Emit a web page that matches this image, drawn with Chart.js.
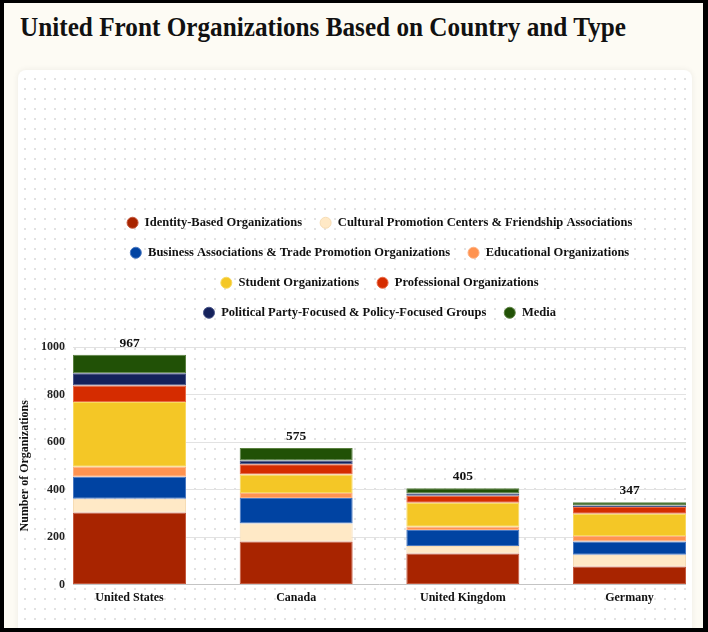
<!DOCTYPE html>
<html>
<head>
<meta charset="utf-8">
<title>United Front Organizations Based on Country and Type</title>
<script src="https://cdn.jsdelivr.net/npm/chart.js@4.4.0/dist/chart.umd.min.js"></script>
<style>
  html, body { margin: 0; padding: 0; background: #000; }
  body { width: 708px; height: 632px; overflow: hidden; position: relative; }
  #page {
    position: absolute; left: 4px; top: 3px; width: 699px; height: 625px;
    background: #fdfbf4; overflow: hidden;
  }
  h1 {
    position: absolute; left: 16px; top: 9px; margin: 0;
    font-family: "Liberation Serif", serif; font-weight: bold; font-size: 27px;
    color: #111; white-space: nowrap;
    transform: scaleX(0.934); transform-origin: left top;
  }
  #card {
    position: absolute; left: 14px; top: 67px; width: 674px; height: 600px;
    border-radius: 8px; background-color: #fff;
    box-shadow: 0 0 6px rgba(0, 0, 0, 0.07);
    background-image: radial-gradient(circle, #e2e2e2 0.9px, transparent 1.3px);
    background-size: 10px 10px; background-position: 2px 4px;
  }
  #wrap { position: absolute; left: 0; top: 0; width: 674px; height: 555px; }
</style>
</head>
<body>
<div id="page">
  <h1>United Front Organizations Based on Country and Type</h1>
  <div id="card">
    <div id="wrap"><canvas id="orgChart"></canvas></div>
  </div>
</div>
<script>
// countries on the x axis
const countries = ['United States', 'Canada', 'United Kingdom', 'Germany'];

// organizations per type, one value per country
const identityBased = [303, 181, 131, 76];
const culturalPromotion = [58, 76, 31, 50];
const businessTrade = [93, 108, 68, 55];
const educational = [42, 21, 13, 24];
const student = [272, 77, 101, 93];
const professional = [70, 43, 30, 29];
const politicalParty = [51, 16, 9, 6];
const media = [78, 53, 22, 14];

const yTicks = [0, 200, 400, 600, 800, 1000];

const seriesNames = [
    'Identity-Based Organizations',
    'Cultural Promotion Centers & Friendship Associations',
    'Business Associations & Trade Promotion Organizations',
    'Educational Organizations',
    'Student Organizations',
    'Professional Organizations',
    'Political Party-Focused & Policy-Focused Groups',
    'Media'
];
const seriesValues = [identityBased, culturalPromotion, businessTrade, educational,
    student, professional, politicalParty, media];

const fillColors = ['#a82400', '#ffe9c6', '#0043a2', '#ff9350', '#f4c726', '#d52c00', '#14215b', '#215106'];
const edgeColors = ['#c4583c', '#f6dcb4', '#4a78c0', '#ffb080', '#f8d960', '#e96a45', '#4a5588', '#5a8040'];

// bars sit flush with both ends of the plot, so x runs half a bar past each country
const barShare = 0.678;
const xPad = barShare / 2;

Chart.defaults.font.family = '"Liberation Serif", serif';
Chart.defaults.color = '#111';

// push the plot down a bit under the legend
const legendGap = {
    id: 'legendGap',
    beforeInit(chart) {
        const origFit = chart.legend.fit;
        chart.legend.fit = function fit() {
            origFit.bind(chart.legend)();
            this.height += 18;
        };
    }
};

// stack totals above each bar
const totalLabels = {
    id: 'totalLabels',
    afterDatasetsDraw(chart) {
        const ctx = chart.ctx;
        const lastMeta = chart.getDatasetMeta(chart.data.datasets.length - 1);
        ctx.save();
        ctx.font = 'bold 13.5px "Liberation Serif", serif';
        ctx.fillStyle = '#111';
        ctx.textAlign = 'center';
        ctx.textBaseline = 'alphabetic';
        lastMeta.data.forEach((bar, i) => {
            const total = chart.data.datasets.reduce((sum, ds) => sum + ds.data[i].y, 0);
            ctx.fillText(total, bar.x, bar.y - 8);
        });
        ctx.restore();
    }
};

const ctx = document.getElementById('orgChart').getContext('2d');
const orgChart = new Chart(ctx, {
    type: 'bar',
    data: {
        datasets: seriesNames.map((name, i) => ({
            label: name,
            data: seriesValues[i].map((v, j) => ({ x: j, y: v })),
            backgroundColor: fillColors[i],
            borderColor: edgeColors[i],
            borderWidth: 1,
            borderSkipped: false,
            barPercentage: barShare,
            categoryPercentage: 1
        }))
    },
    options: {
        responsive: true,
        maintainAspectRatio: false,
        animation: false,
        layout: {
            padding: { top: 129, left: 0, right: 6, bottom: 14 }
        },
        plugins: {
            tooltip: { enabled: false },
            legend: {
                position: 'top',
                fullSize: false,
                labels: {
                    usePointStyle: true,
                    pointStyle: 'circle',
                    boxWidth: 12,
                    boxHeight: 7.8,
                    padding: 17.5,
                    color: '#111',
                    font: { size: 12.5, weight: 'bold' }
                }
            }
        },
        scales: {
            x: {
                type: 'linear',
                stacked: true,
                offset: false,
                min: -xPad,
                max: countries.length - 1 + xPad,
                afterBuildTicks(axis) {
                    axis.ticks = countries.map((c, i) => ({ value: i }));
                },
                grid: { display: false, drawTicks: false, offset: false },
                border: { display: false },
                ticks: {
                    padding: 6,
                    color: '#111',
                    maxRotation: 0,
                    font: { size: 12, weight: 'bold' },
                    callback: v => countries[v]
                }
            },
            y: {
                stacked: true,
                min: 0,
                max: 1000,
                afterBuildTicks(axis) {
                    axis.ticks = yTicks.map(v => ({ value: v }));
                },
                afterFit(axis) {
                    axis.width = 55;
                },
                grid: {
                    drawTicks: false,
                    color: c => c.tick && c.tick.value === 0 ? '#c4c4c4' : '#e2e2e2'
                },
                border: { display: false },
                ticks: {
                    padding: 8,
                    color: '#222',
                    font: { size: 12, weight: 'bold' },
                    callback: v => String(v)
                },
                title: {
                    display: true,
                    text: 'Number of Organizations',
                    color: '#111',
                    padding: { top: 0, bottom: 4 },
                    font: { size: 12, weight: 'bold' }
                }
            }
        }
    },
    plugins: [legendGap, totalLabels]
});
</script>
</body>
</html>
